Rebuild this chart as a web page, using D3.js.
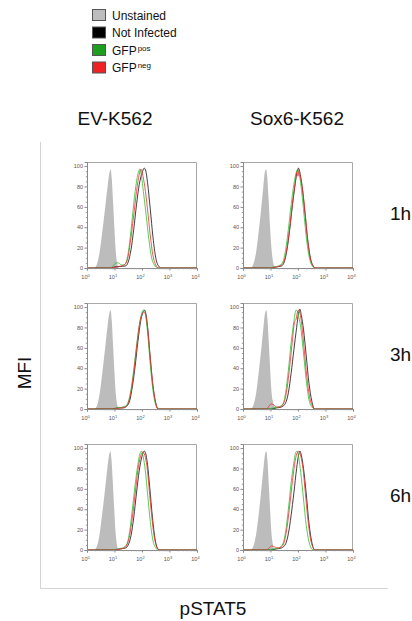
<!DOCTYPE html>
<html lang="en">
<head>
<meta charset="utf-8"/>
<title>pSTAT5 histograms</title>
<script src="https://d3js.org/d3.v7.min.js"></script>
<style>
  body { margin: 0; background: #fff; }
  text { font-family: "Liberation Sans", Arial, sans-serif; }
</style>
</head>
<body>
<script>
// chart values
var columns = ["EV-K562", "Sox6-K562"];
var rows = ["1h", "3h", "6h"];
var legendLabels = [["Unstained", ""], ["Not Infected", ""], ["GFP", "pos"], ["GFP", "neg"]];
var legendColors = ["#bdbdbd", "#000000", "#1e9e1e", "#ee2424"];
var yTicks = [0, 20, 40, 60, 80, 100];
var yMinor = [5, 10, 15, 25, 30, 35, 45, 50, 55, 65, 70, 75, 85, 90, 95];
var xDecades = [0, 1, 2, 3, 4];

// histograms: [log10 intensity, % of max]
var grayEV1h = [[0.25,0],[0.35,3],[0.45,14],[0.55,34],[0.65,57],[0.75,80],[0.82,94],[0.86,97],[0.9,88],[0.95,64],[1.0,37],[1.05,15],[1.1,4],[1.16,0]];
var blackEV1h = [[0.9,0],[1.0,1],[1.2,1.5],[1.4,2],[1.5,6],[1.6,18],[1.7,38],[1.8,62],[1.9,82],[2.0,93],[2.08,98],[2.14,95],[2.2,84],[2.3,58],[2.4,30],[2.5,10],[2.6,2],[2.7,0]];
var greenEV1h = [[0.8,0],[0.95,2],[1.05,5],[1.15,5],[1.25,3],[1.35,3],[1.45,8],[1.55,25],[1.65,50],[1.75,75],[1.85,92],[1.92,97],[1.98,90],[2.05,75],[2.15,52],[2.25,28],[2.35,10],[2.45,3],[2.55,0]];
var redEV1h = [[0.9,0],[1.05,1],[1.25,2],[1.4,4],[1.5,12],[1.6,30],[1.7,52],[1.8,75],[1.9,92],[1.96,97],[2.02,92],[2.1,80],[2.2,58],[2.3,32],[2.4,12],[2.5,3],[2.6,0]];

var graySox1h = [[0.28,0],[0.38,4],[0.48,16],[0.58,38],[0.66,58],[0.74,80],[0.8,95],[0.84,97],[0.88,90],[0.93,68],[0.98,42],[1.04,18],[1.1,5],[1.17,0]];
var blackSox1h = [[1.0,0],[1.2,1],[1.4,2],[1.5,6],[1.6,18],[1.7,38],[1.8,62],[1.9,83],[1.97,95],[2.02,98],[2.08,92],[2.15,80],[2.25,55],[2.35,28],[2.45,10],[2.55,2],[2.65,0]];
var greenSox1h = [[0.9,0],[1.1,1],[1.3,2],[1.45,6],[1.55,18],[1.65,38],[1.75,62],[1.85,82],[1.95,95],[2.0,97],[2.06,90],[2.13,76],[2.22,52],[2.32,26],[2.42,9],[2.52,2],[2.6,0]];
var redSox1h = [[1.0,0],[1.2,1],[1.4,3],[1.5,7],[1.6,20],[1.7,40],[1.8,64],[1.9,84],[1.96,94],[2.0,90],[2.04,96],[2.08,90],[2.15,80],[2.25,56],[2.35,28],[2.45,9],[2.55,2],[2.65,0]];

var grayEV3h = [[0.26,0],[0.36,3],[0.46,15],[0.56,36],[0.66,60],[0.75,82],[0.82,95],[0.86,97],[0.9,87],[0.95,62],[1.0,35],[1.05,14],[1.1,4],[1.17,0]];
var blackEV3h = [[0.9,0],[1.1,1],[1.3,1],[1.45,3],[1.55,8],[1.65,22],[1.75,42],[1.85,66],[1.95,86],[2.05,96],[2.1,97],[2.15,92],[2.22,76],[2.3,50],[2.4,22],[2.5,6],[2.6,0]];
var greenEV3h = [[0.9,0],[1.1,1],[1.3,2],[1.45,4],[1.55,12],[1.65,28],[1.75,50],[1.85,72],[1.95,89],[2.05,97],[2.1,96],[2.15,88],[2.22,70],[2.3,44],[2.4,18],[2.5,4],[2.6,0]];
var redEV3h = [[1.0,0],[1.2,1],[1.4,2],[1.5,6],[1.6,17],[1.7,36],[1.8,60],[1.9,82],[2.0,93],[2.08,95],[2.14,92],[2.2,80],[2.28,56],[2.38,28],[2.48,8],[2.58,0]];

var graySox3h = [[0.28,0],[0.38,4],[0.48,16],[0.58,38],[0.67,60],[0.75,82],[0.81,95],[0.85,97],[0.89,88],[0.94,64],[0.99,38],[1.04,16],[1.09,7],[1.14,3],[1.2,0]];
var blackSox3h = [[1.0,0],[1.2,1],[1.4,2],[1.55,6],[1.65,16],[1.75,35],[1.85,58],[1.95,80],[2.02,94],[2.07,98],[2.12,92],[2.2,78],[2.3,52],[2.4,25],[2.5,8],[2.6,0]];
var greenSox3h = [[0.9,0],[1.1,1],[1.3,2],[1.45,5],[1.55,16],[1.65,38],[1.75,65],[1.85,86],[1.93,97],[1.98,96],[2.03,90],[2.1,80],[2.2,55],[2.3,28],[2.4,9],[2.5,2],[2.6,0]];
var redSox3h = [[0.85,0],[0.95,3],[1.02,5],[1.12,4],[1.22,2],[1.35,2],[1.5,7],[1.6,20],[1.7,42],[1.8,68],[1.88,86],[1.93,88],[1.97,94],[2.02,97],[2.07,94],[2.14,82],[2.22,60],[2.32,32],[2.42,12],[2.52,3],[2.6,0]];

var grayEV6h = [[0.25,0],[0.35,3],[0.45,14],[0.55,35],[0.65,58],[0.74,80],[0.81,94],[0.85,97],[0.89,89],[0.94,66],[0.99,40],[1.04,17],[1.09,5],[1.15,0]];
var blackEV6h = [[1.0,0],[1.2,1],[1.4,2],[1.5,5],[1.6,14],[1.7,32],[1.8,56],[1.9,78],[2.0,92],[2.08,97],[2.13,95],[2.2,84],[2.28,62],[2.38,32],[2.48,10],[2.58,1],[2.65,0]];
var greenEV6h = [[0.9,0],[1.1,1],[1.3,2],[1.45,6],[1.55,18],[1.65,40],[1.75,64],[1.85,84],[1.93,95],[1.98,97],[2.04,92],[2.12,78],[2.2,56],[2.3,28],[2.4,9],[2.5,2],[2.58,0]];
var redEV6h = [[1.0,0],[1.2,1],[1.35,2],[1.45,5],[1.55,14],[1.65,32],[1.75,55],[1.85,78],[1.95,92],[2.03,96],[2.1,93],[2.18,82],[2.26,60],[2.35,34],[2.45,12],[2.55,2],[2.62,0]];

var graySox6h = [[0.28,0],[0.38,4],[0.48,16],[0.58,37],[0.67,60],[0.75,82],[0.81,95],[0.85,97],[0.89,88],[0.94,63],[0.99,37],[1.04,15],[1.09,5],[1.15,0]];
var blackSox6h = [[1.0,0],[1.2,1],[1.4,2],[1.55,6],[1.65,16],[1.75,34],[1.85,56],[1.95,80],[2.02,93],[2.07,97],[2.12,93],[2.2,80],[2.3,55],[2.4,26],[2.5,8],[2.6,0]];
var greenSox6h = [[0.9,0],[1.1,1],[1.3,2],[1.45,6],[1.55,18],[1.65,40],[1.75,66],[1.85,86],[1.92,96],[1.97,97],[2.03,90],[2.1,76],[2.2,50],[2.3,24],[2.4,8],[2.5,1],[2.58,0]];
var redSox6h = [[0.85,0],[0.95,2],[1.05,4],[1.15,3],[1.28,2],[1.4,3],[1.5,8],[1.6,22],[1.7,44],[1.8,68],[1.9,88],[1.98,96],[2.04,97],[2.1,92],[2.18,80],[2.26,58],[2.36,30],[2.46,10],[2.56,2],[2.64,0]];

// panel table: [gray, black, green, red] per row / column
var panels = [
  [[grayEV1h, blackEV1h, greenEV1h, redEV1h], [graySox1h, blackSox1h, greenSox1h, redSox1h]],
  [[grayEV3h, blackEV3h, greenEV3h, redEV3h], [graySox3h, blackSox3h, greenSox3h, redSox3h]],
  [[grayEV6h, blackEV6h, greenEV6h, redEV6h], [graySox6h, blackSox6h, greenSox6h, redSox6h]]
];

var w = 412, h = 621;
var colLeft = [87, 243];
var rowTop = [162, 303, 444];
var pw = 110, ph = 106;

var svg = d3.select("body").append("svg")
    .attr("width", w)
    .attr("height", h);

// legend
var legend = svg.append("g").attr("transform", "translate(92,9)");
legendLabels.forEach(function(l, i) {
  var g = legend.append("g").attr("transform", "translate(0," + (i * 17.5) + ")");
  g.append("rect")
    .attr("x", 0.5).attr("y", 0.5)
    .attr("width", 13).attr("height", 11)
    .style("fill", legendColors[i])
    .style("stroke", "#555")
    .style("stroke-width", 1);
  var t = g.append("text")
    .attr("x", 20).attr("y", 10.5)
    .style("font-size", "12px")
    .style("fill", "#111")
    .text(l[0]);
  if (l[1]) {
    t.append("tspan").attr("dy", -4).attr("dx", 1)
      .style("font-size", "8px").text(l[1]);
  }
});

// outer frame (left + bottom)
svg.append("path")
  .attr("d", "M40.5,142V588.5H388")
  .style("fill", "none")
  .style("stroke", "#d4d4d4")
  .style("stroke-width", 1);

// column titles
columns.forEach(function(c, i) {
  svg.append("text")
    .attr("x", colLeft[i] + [28, 54][i])
    .attr("y", 125)
    .attr("text-anchor", "middle")
    .style("font-size", "19px")
    .style("fill", "#111")
    .text(c);
});

// row titles
rows.forEach(function(r, i) {
  svg.append("text")
    .attr("x", 390)
    .attr("y", rowTop[i] + 58)
    .style("font-size", "19px")
    .style("fill", "#111")
    .text(r);
});

svg.append("text")
  .attr("transform", "translate(31,373) rotate(-90)")
  .attr("text-anchor", "middle")
  .style("font-size", "19px")
  .style("fill", "#111")
  .text("MFI");

svg.append("text")
  .attr("x", 213).attr("y", 615)
  .attr("text-anchor", "middle")
  .style("font-size", "19px")
  .style("fill", "#111")
  .text("pSTAT5");

var lineColors = ["#111111", "#2fbf2f", "#f03030"];

rows.forEach(function(r, ri) {
  columns.forEach(function(c, ci) {
    var x = d3.scaleLog().domain([1, 10000]).range([0, pw]);
    var y = d3.scaleLinear().domain([0, 104]).range([ph, 0]);
    var g = svg.append("g")
      .attr("transform", "translate(" + colLeft[ci] + "," + rowTop[ri] + ")");

    // top + right frame
    g.append("path")
      .attr("d", "M0,0.5H" + (pw - 0.5) + "V" + ph)
      .style("fill", "none")
      .style("stroke", "#a8a8a8")
      .style("stroke-width", 1);

    var curves = panels[ri][ci];
    var area = d3.area()
      .x(function(d) { return x(Math.pow(10, d[0])); })
      .y0(y(0))
      .y1(function(d) { return y(d[1]); })
      .curve(d3.curveMonotoneX);
    var line = d3.line()
      .x(function(d) { return x(Math.pow(10, d[0])); })
      .y(function(d) { return y(d[1]); })
      .curve(d3.curveMonotoneX);

    g.append("path")
      .datum(curves[0])
      .attr("d", area)
      .style("fill", "#bcbcbc")
      .style("stroke", "none");

    [1, 2, 3].forEach(function(k) {
      var pts = [[0, 0]].concat(curves[k], [[4, 0]]);
      g.append("path")
        .datum(pts)
        .attr("d", line)
        .style("fill", "none")
        .style("stroke", lineColors[k - 1])
        .style("stroke-width", 0.9)
        .style("opacity", 0.9);
    });

    // y axis
    var ya = g.append("g")
      .call(d3.axisLeft(y).tickValues(yTicks).tickSize(2.5).tickPadding(1.5));
    ya.selectAll("text").style("font-size", "5.5px").style("fill", "#555")
      .style("font-family", "'Liberation Sans', Arial, sans-serif");
    ya.select(".domain").style("stroke", "#8a8a8a");
    ya.selectAll(".tick line").style("stroke", "#8a8a8a");
    var ym = g.append("g")
      .call(d3.axisLeft(y).tickValues(yMinor).tickSize(1.2).tickFormat(""));
    ym.select(".domain").remove();
    ym.selectAll(".tick line").style("stroke", "#999");

    // x axis
    var xa = g.append("g")
      .attr("transform", "translate(0," + ph + ")")
      .call(d3.axisBottom(x).tickValues(xDecades.map(function(e) { return Math.pow(10, e); }))
        .tickSize(2.5).tickFormat(""));
    xa.select(".domain").style("stroke", "#8a8a8a");
    xa.selectAll(".tick line").style("stroke", "#8a8a8a");
    var minor = x.ticks().filter(function(v) {
      return xDecades.indexOf(Math.round(Math.log10(v) * 1000) / 1000) < 0;
    });
    var xm = g.append("g")
      .attr("transform", "translate(0," + ph + ")")
      .call(d3.axisBottom(x).tickValues(minor).tickSize(1.3).tickFormat(""));
    xm.select(".domain").remove();
    xm.selectAll(".tick line").style("stroke", "#999");

    xDecades.forEach(function(e) {
      var t = g.append("text")
        .attr("x", x(Math.pow(10, e)) - 1.5)
        .attr("y", ph + 11)
        .attr("text-anchor", "middle")
        .style("font-size", "5.5px")
        .style("fill", "#555")
        .text("10");
      t.append("tspan").attr("dy", -2.5).style("font-size", "4px").text(e);
    });
  });
});
</script>
</body>
</html>
